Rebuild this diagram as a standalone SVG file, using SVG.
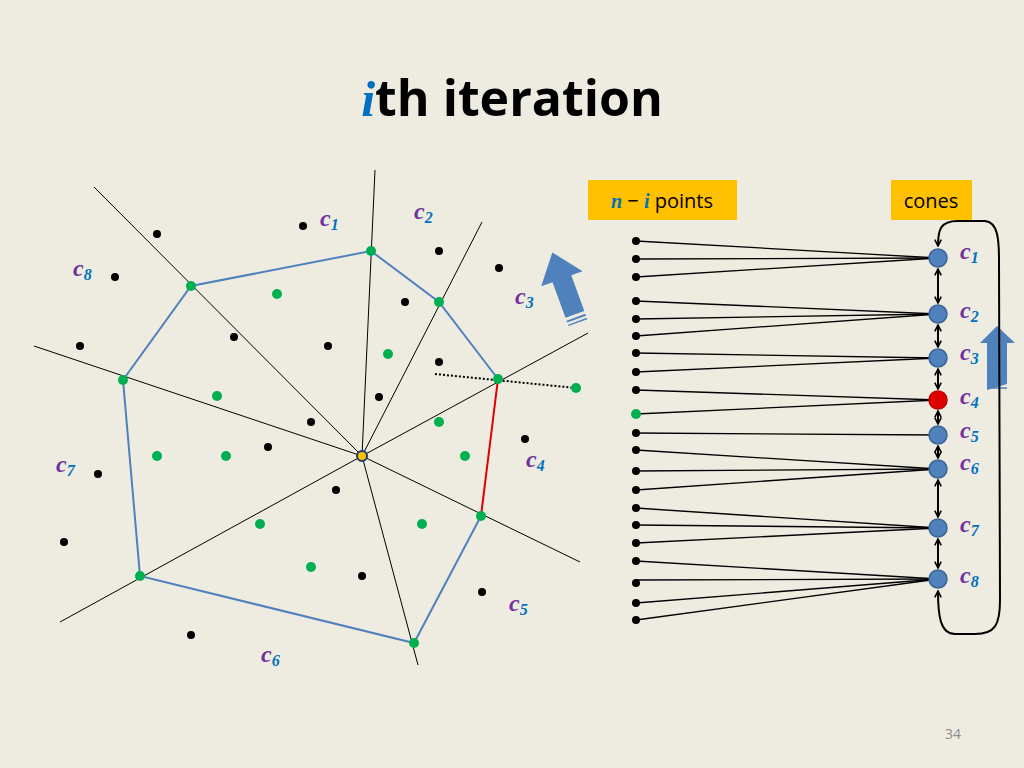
<svg xmlns="http://www.w3.org/2000/svg" width="1024" height="768" viewBox="0 0 1024 768">
<defs>
<style>
.ray{stroke:#000;stroke-width:1}
.hull{stroke:#4F81BD;stroke-width:2;fill:none}
.b{fill:#000}
.g{fill:#00B050}
.lbl{font-family:"Liberation Serif",serif;font-style:italic;font-weight:bold;font-size:24px;fill:#7030A0}
.sub{font-size:16px;fill:#0070C0}
.cone{fill:#4F81BD;stroke:#3A6496;stroke-width:1.5}
.ln{stroke:#000;stroke-width:1.3}
.dbl{stroke:#000;stroke-width:2;marker-start:url(#ah);marker-end:url(#ah)}
</style>
<marker id="ah" viewBox="0 0 10 10" refX="9" refY="5" markerWidth="4" markerHeight="4" orient="auto-start-reverse"><path d="M1,1 L9,5 L1,9" fill="none" stroke="#000" stroke-width="2"/></marker>
</defs>
<rect width="1024" height="768" fill="#EEECE1"/>
<text x="512" y="116" text-anchor="middle" font-family="'Open Sans','Liberation Sans',sans-serif" font-weight="bold" font-size="50" fill="#000"><tspan font-family="'Liberation Serif',serif" font-style="italic" fill="#0070C0">i</tspan>th iteration</text>
<g id="rays">
<line class="ray" x1="362" y1="456" x2="94" y2="187"/>
<line class="ray" x1="362" y1="456" x2="375" y2="170"/>
<line class="ray" x1="362" y1="456" x2="482" y2="222"/>
<line class="ray" x1="362" y1="456" x2="588" y2="333"/>
<line class="ray" x1="362" y1="456" x2="580" y2="562"/>
<line class="ray" x1="362" y1="456" x2="418" y2="665"/>
<line class="ray" x1="362" y1="456" x2="60" y2="622"/>
<line class="ray" x1="362" y1="456" x2="34" y2="346"/>
</g>
<g id="hull">
<polyline class="hull" points="498,379 439,302 371,251 191,286 123,380 140,576 414,643 481,516"/>
<line x1="498" y1="379" x2="481" y2="516" stroke="#E00000" stroke-width="2"/>
<line x1="435" y1="374" x2="576" y2="388" stroke="#000" stroke-width="2" stroke-dasharray="2,2"/>
</g>
<g id="points">
<g class="g">
<circle cx="371" cy="251" r="5"/><circle cx="439" cy="302" r="5"/><circle cx="498" cy="379" r="5"/><circle cx="481" cy="516" r="5"/><circle cx="414" cy="643" r="5"/><circle cx="140" cy="576" r="5"/><circle cx="123" cy="380" r="5"/><circle cx="191" cy="286" r="5"/>
<circle cx="277" cy="294" r="5"/><circle cx="388" cy="354" r="5"/><circle cx="217" cy="396" r="5"/><circle cx="439" cy="422" r="5"/><circle cx="157" cy="456" r="5"/><circle cx="226" cy="456" r="5"/><circle cx="465" cy="456" r="5"/><circle cx="260" cy="524" r="5"/><circle cx="422" cy="524" r="5"/><circle cx="311" cy="567" r="5"/><circle cx="576" cy="388" r="5"/>
</g>
<g class="b">
<circle cx="157" cy="234" r="4"/><circle cx="303" cy="226" r="4"/><circle cx="115" cy="277" r="4"/><circle cx="439" cy="251" r="4"/><circle cx="499" cy="268" r="4"/><circle cx="405" cy="302" r="4"/><circle cx="80" cy="346" r="4"/><circle cx="234" cy="337" r="4"/><circle cx="328" cy="346" r="4"/><circle cx="439" cy="362" r="4"/><circle cx="379" cy="397" r="4"/><circle cx="311" cy="422" r="4"/><circle cx="525" cy="439" r="4"/><circle cx="268" cy="447" r="4"/><circle cx="98" cy="474" r="4"/><circle cx="336" cy="490" r="4"/><circle cx="64" cy="542" r="4"/><circle cx="362" cy="576" r="4"/><circle cx="482" cy="592" r="4"/><circle cx="191" cy="635" r="4"/>
</g>
<circle cx="362" cy="456" r="5" fill="#FFC000" stroke="#1F3864" stroke-width="2"/>
</g>
<g id="labels-left">
<text class="lbl" x="320" y="226">c<tspan class="sub" dy="4">1</tspan></text>
<text class="lbl" x="414" y="219">c<tspan class="sub" dy="4">2</tspan></text>
<text class="lbl" x="515" y="304">c<tspan class="sub" dy="4">3</tspan></text>
<text class="lbl" x="526" y="467">c<tspan class="sub" dy="4">4</tspan></text>
<text class="lbl" x="509" y="611">c<tspan class="sub" dy="4">5</tspan></text>
<text class="lbl" x="261" y="662">c<tspan class="sub" dy="4">6</tspan></text>
<text class="lbl" x="56" y="472">c<tspan class="sub" dy="4">7</tspan></text>
<text class="lbl" x="73" y="276">c<tspan class="sub" dy="4" fill="#000">8</tspan></text>
</g>
<g id="arrow1" transform="translate(566,290) rotate(-20)">
<path d="M-10,-12 L-22,-12 L0,-40 L22,-12 L10,-12 L10,26 L-10,26 Z" fill="#4F81BD"/>
<line x1="-10" y1="30" x2="10" y2="30" stroke="#4F81BD" stroke-width="2"/>
<line x1="-10" y1="34" x2="10" y2="34" stroke="#4F81BD" stroke-width="1.5"/>
</g>
<g id="arrow2">
<path d="M987,390 L987,343 L980,343 L997,326 L1015,343 L1007,343 L1007,384 Z" fill="#4F81BD"/>
<line x1="987" y1="388" x2="1007" y2="388" stroke="#4F81BD" stroke-width="1.5"/>
</g>
<g id="box-points"><rect x="588" y="180" width="149" height="40" fill="#FFC000"/>
<text x="662" y="208" text-anchor="middle" font-family="'Open Sans','Liberation Sans',sans-serif" font-size="20" fill="#000"><tspan font-family="'Liberation Serif',serif" font-style="italic" font-weight="bold" fill="#0070C0">n</tspan> − <tspan font-family="'Liberation Serif',serif" font-style="italic" font-weight="bold" fill="#0070C0">i</tspan> points</text></g>
<g id="box-cones"><rect x="891" y="180" width="81" height="40" fill="#FFC000"/>
<text x="931" y="208" text-anchor="middle" font-family="'Open Sans','Liberation Sans',sans-serif" font-size="20" fill="#000">cones</text></g>
<g id="connectors">
<g class="ln">
<line x1="636" y1="241" x2="938" y2="258"/><line x1="636" y1="259" x2="938" y2="258"/><line x1="636" y1="277" x2="938" y2="258"/>
<line x1="636" y1="301" x2="938" y2="314"/><line x1="636" y1="319" x2="938" y2="314"/><line x1="636" y1="336" x2="938" y2="314"/>
<line x1="636" y1="353" x2="938" y2="358"/><line x1="636" y1="372" x2="938" y2="358"/>
<line x1="636" y1="390" x2="938" y2="400"/><line x1="636" y1="414" x2="938" y2="400"/>
<line x1="636" y1="433" x2="938" y2="435"/>
<line x1="636" y1="450" x2="938" y2="469"/><line x1="636" y1="471" x2="938" y2="469"/><line x1="636" y1="490" x2="938" y2="469"/>
<line x1="636" y1="508" x2="938" y2="528"/><line x1="636" y1="525" x2="938" y2="528"/><line x1="636" y1="543" x2="938" y2="528"/>
<line x1="636" y1="561" x2="938" y2="579"/><line x1="636" y1="580" x2="938" y2="579"/><line x1="636" y1="603" x2="938" y2="579"/><line x1="636" y1="620" x2="938" y2="579"/>
</g>
<line class="dbl" x1="938" y1="269" x2="938" y2="303"/>
<line class="dbl" x1="938" y1="325" x2="938" y2="347"/>
<line class="dbl" x1="938" y1="369" x2="938" y2="389"/>
<line class="dbl" x1="938" y1="411" x2="938" y2="424"/>
<line class="dbl" x1="938" y1="446" x2="938" y2="458"/>
<line class="dbl" x1="938" y1="480" x2="938" y2="517"/>
<line class="dbl" x1="938" y1="539" x2="938" y2="568"/>
<path d="M938,246 C938,230 940,220 960,221 L985,221 C998,222 999,240 999,260 L1000,600 C1000,625 995,634 975,634 L955,634 C940,634 938,615 938,591" fill="none" stroke="#000" stroke-width="2" marker-start="url(#ah)" marker-end="url(#ah)"/>
</g>
<g id="list-points">
<g class="b">
<circle cx="636" cy="241" r="4"/><circle cx="636" cy="259" r="4"/><circle cx="636" cy="277" r="4"/><circle cx="636" cy="301" r="4"/><circle cx="636" cy="319" r="4"/><circle cx="636" cy="336" r="4"/><circle cx="636" cy="353" r="4"/><circle cx="636" cy="372" r="4"/><circle cx="636" cy="390" r="4"/><circle cx="636" cy="433" r="4"/><circle cx="636" cy="450" r="4"/><circle cx="636" cy="471" r="4"/><circle cx="636" cy="490" r="4"/><circle cx="636" cy="508" r="4"/><circle cx="636" cy="525" r="4"/><circle cx="636" cy="543" r="4"/><circle cx="636" cy="561" r="4"/><circle cx="636" cy="583" r="4"/><circle cx="636" cy="603" r="4"/><circle cx="636" cy="620" r="4"/>
</g>
<circle class="g" cx="636" cy="414" r="5"/>
</g>
<g id="cones">
<circle class="cone" cx="938" cy="258" r="9"/>
<circle class="cone" cx="938" cy="314" r="9"/>
<circle class="cone" cx="938" cy="358" r="9"/>
<circle cx="938" cy="400" r="9" fill="#E00000" stroke="#C00000" stroke-width="1.5"/>
<circle class="cone" cx="938" cy="435" r="9"/>
<circle class="cone" cx="938" cy="469" r="9"/>
<circle class="cone" cx="938" cy="528" r="9"/>
<circle class="cone" cx="938" cy="579" r="9"/>
</g>
<g id="labels-right">
<text class="lbl" x="960" y="259">c<tspan class="sub" dy="4">1</tspan></text>
<text class="lbl" x="960" y="318">c<tspan class="sub" dy="4">2</tspan></text>
<text class="lbl" x="960" y="360">c<tspan class="sub" dy="4">3</tspan></text>
<text class="lbl" x="960" y="404">c<tspan class="sub" dy="4">4</tspan></text>
<text class="lbl" x="960" y="438">c<tspan class="sub" dy="4">5</tspan></text>
<text class="lbl" x="960" y="470">c<tspan class="sub" dy="4">6</tspan></text>
<text class="lbl" x="960" y="532">c<tspan class="sub" dy="4">7</tspan></text>
<text class="lbl" x="960" y="583">c<tspan class="sub" dy="4">8</tspan></text>
</g>
<text x="953" y="739" text-anchor="middle" font-family="'Open Sans','Liberation Sans',sans-serif" font-size="14" fill="#8C8C8C">34</text>
</svg>
